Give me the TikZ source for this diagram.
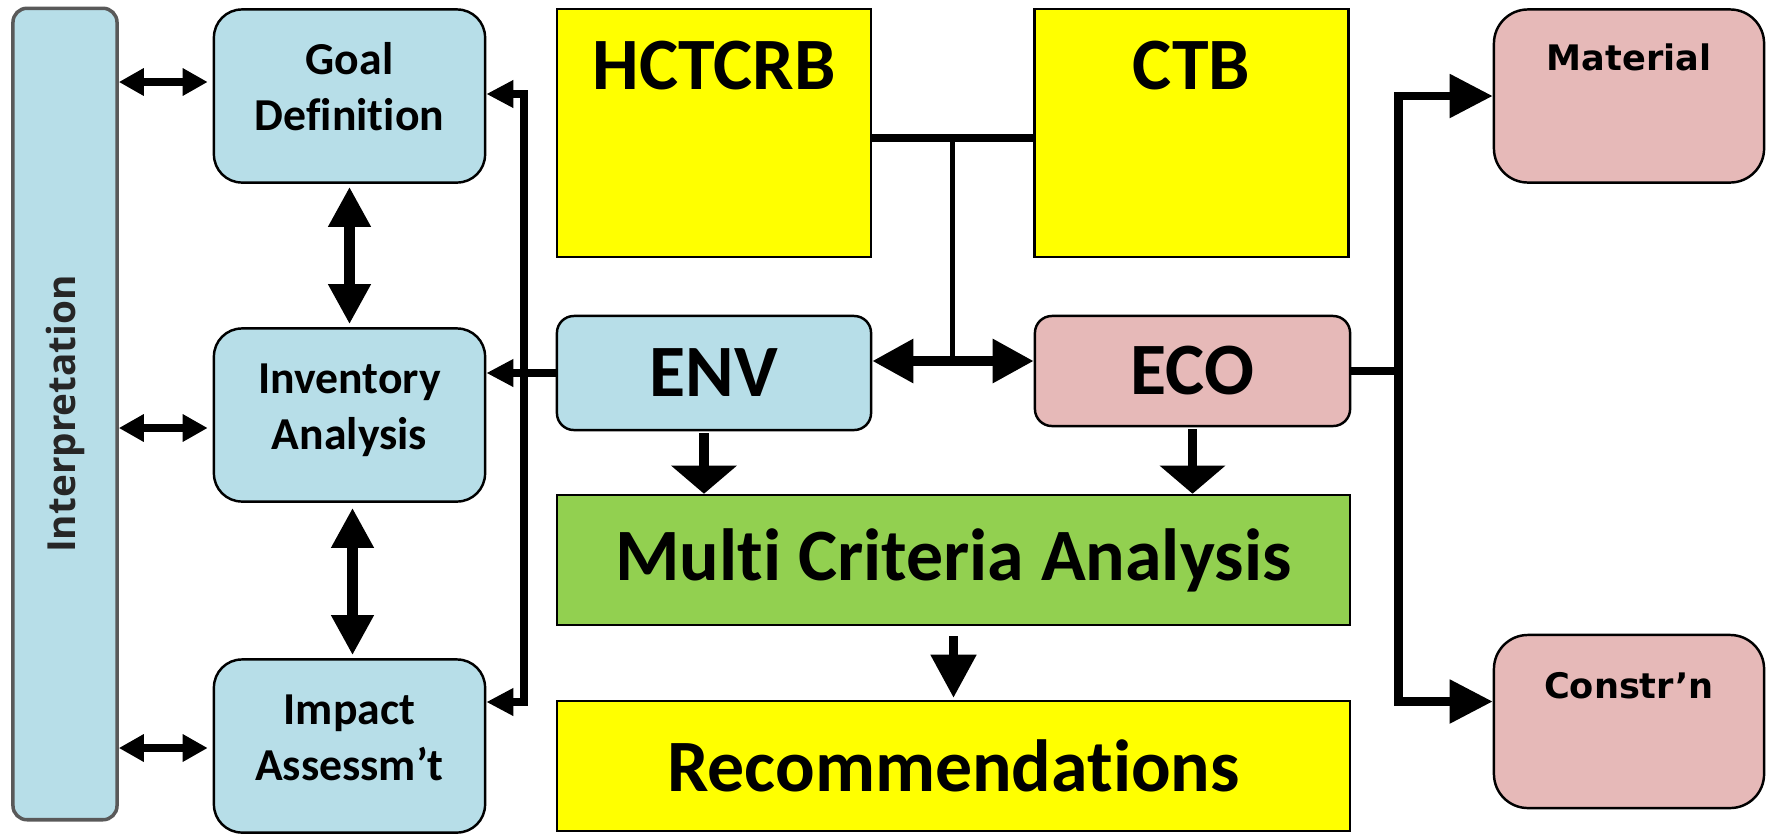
\documentclass[tikz,border=0pt]{standalone}
\usepackage{fontspec}
\setmainfont{Carlito}[Ligatures={TeX,NoCommon,NoContextual}, Contextuals={NoAlternate}]
\newfontfamily\verdfont{DejaVu Sans}
\newfontfamily\opfont{Open Sans}
\usetikzlibrary{arrows.meta,calc}

\definecolor{lcablue}{HTML}{B7DEE8}
\definecolor{lcapink}{HTML}{E6B9B8}
\definecolor{lcagreen}{HTML}{92D050}
\definecolor{lcayellow}{HTML}{FFFF00}

\begin{document}
\begin{tikzpicture}[x=0.01cm, y=-0.01cm, line width=0.7pt,
		box/.style={draw, align=center, inner sep=0pt},
		stagebox/.style={box, fill=lcablue, rounded corners=0.28cm, minimum width=2.71cm, minimum height=1.73cm,
			text height=1.21cm, text depth=0.52cm, font=\fontsize{13}{16}\selectfont\bfseries},
		bigbox/.style={box, minimum width=3.14cm, font=\fontsize{21}{24}\selectfont\bfseries},
		costbox/.style={box, fill=lcapink, rounded corners=0.34cm, minimum width=2.70cm, minimum height=1.73cm,
			font=\verdfont\fontsize{10}{12}\selectfont\bfseries},
		sidearrow/.style={line width=2.2pt, {Triangle[length=0.25cm,width=0.26cm]}-{Triangle[length=0.25cm,width=0.26cm]}},
		stackarrow/.style={line width=3.4pt, {Triangle[length=0.4cm,width=0.4cm]}-{Triangle[length=0.4cm,width=0.4cm]}},
		backarrow/.style={line width=2.5pt, -{Triangle[length=0.27cm,width=0.26cm]}},
		pairarrow/.style={line width=2.6pt, {Triangle[length=0.41cm,width=0.42cm]}-{Triangle[length=0.41cm,width=0.42cm]}},
		downarrow/.style={line width=2.8pt, -{Triangle[length=0.28cm,width=0.64cm]}},
		outarrow/.style={line width=2.4pt, {Triangle[length=0.43cm,width=0.42cm]}-{Triangle[length=0.43cm,width=0.42cm]}}
	]
	\useasboundingbox (0,0) rectangle (1767,833);

	% LCA stages
	\node[box, fill=lcablue, draw=gray!70!black, line width=1pt, rounded corners=0.14cm, minimum width=1.04cm,
		minimum height=8.11cm, font=\opfont\fontsize{11}{13}\selectfont\bfseries, text=black!85]
		(interp) at (65,414) {\rotatebox{90}{Interpretation}};
	\node[stagebox] (goal) at (349.5,96) {Goal\\Definition};
	\node[stagebox] (inv) at (349.5,415) {Inventory\\Analysis};
	\node[stagebox] (impact) at (349.5,746) {Impact\\Assessm’t};

	% middle column
	\node[bigbox, fill=lcayellow, minimum height=2.48cm, text height=0.81cm, text depth=1.67cm] (hctcrb) at (714,133) {HCTCRB};
	\node[bigbox, fill=lcayellow, minimum height=2.48cm, text height=0.81cm, text depth=1.67cm] (ctb) at (1191.5,133) {CTB};
	\node[bigbox, fill=lcablue, rounded corners=0.17cm, minimum height=1.14cm] (env) at (714,373) {ENV};
	\node[bigbox, fill=lcapink, rounded corners=0.17cm, minimum width=3.15cm, minimum height=1.10cm] (eco) at (1192.5,371) {ECO};
	\node[bigbox, fill=lcagreen, minimum width=7.93cm, minimum height=1.30cm] (mca) at (953.5,560) {Multi Criteria Analysis};
	\node[bigbox, fill=lcayellow, minimum width=7.93cm, minimum height=1.30cm] (rec) at (953.5,766) {Recommendations};

	% cost items
	\node[costbox, text height=0.61cm, text depth=1.12cm] (material) at (1629,96) {Material};
	\node[costbox, text height=0.63cm, text depth=1.10cm] (constr) at (1629,721.5) {Constr’n};

	% left side
	\draw[sidearrow] ($(interp.east|-goal.west)+(0,-14)$) -- ($(goal.west)+(-5,-14)$);
	\draw[sidearrow] ($(interp.east|-inv.west)+(0,13)$) -- ($(inv.west)+(-5,13)$);
	\draw[sidearrow] ($(interp.east|-impact.west)+(0,2)$) -- ($(impact.west)+(-5,2)$);
	\draw[stackarrow, shorten <=0.03cm, shorten >=0.03cm] (goal.south) -- (inv.north);
	\draw[stackarrow, shorten <=0.05cm, shorten >=0.03cm] ($(inv.south)+(3,0)$) -- ($(impact.north)+(3,0)$);

	\coordinate (fbtop) at (524,94);
	\coordinate (fbbot) at (524,702);
	\draw[backarrow, {Triangle[length=0.27cm,width=0.26cm]}-{Triangle[length=0.27cm,width=0.26cm]}]
		(goal.east|-fbtop) -| (fbbot) -- (impact.east|-fbbot);
	\draw[backarrow] (env.west) -- (inv.east|-env.west);

	% HCTCRB / CTB feed
	\coordinate (tjoin) at ($(hctcrb.east)!0.5!(ctb.west)+(0,5)$);
	\draw[line width=2.3pt] ($(hctcrb.east)+(0,5)$) -- ($(ctb.west)+(0,5)$);
	\draw[line width=1.5pt] (tjoin) -- ++(0,220);
	\draw[pairarrow] ($(env.east)+(0,-12)$) -- ($(eco.west)+(0,-10)$);

	\draw[downarrow] ($(env.south)+(-10,2)$) -- ($(env.south|-mca.north)+(-10,0)$);
	\draw[downarrow, shorten <=0.02cm] (eco.south) -- (eco.south|-mca.north);
	\draw[line width=2.3pt, -{Triangle[length=0.43cm,width=0.44cm]}, shorten <=0.1cm, shorten >=0.02cm] (mca.south) -- (rec.north);

	% cost split
	\coordinate (ecoturn) at ($(eco.east)+(47,0)$);
	\draw[line width=2.4pt] (eco.east) -- (ecoturn);
	\draw[outarrow] (material.west) -| (ecoturn) |- ($(constr.west)+(0,-20)$);
\end{tikzpicture}
\end{document}
